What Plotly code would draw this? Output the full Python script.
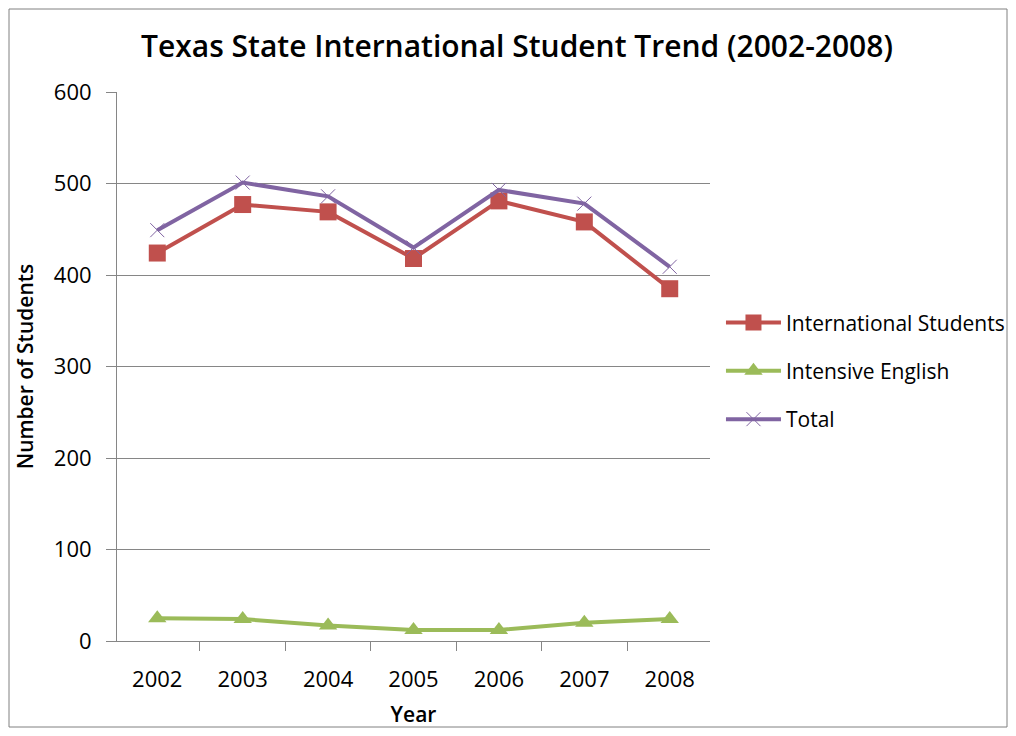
import plotly.graph_objects as go

# Data
years = ["2002", "2003", "2004", "2005", "2006", "2007", "2008"]
international = [424, 477, 469, 418, 481, 458, 385]
intensive_english = [25, 24, 17, 12, 12, 20, 24]
total = [449, 501, 486, 430, 493, 478, 409]

font_family = "'Open Sans', sans-serif"

fig = go.Figure()

fig.add_trace(go.Scatter(
    x=years, y=international, name="International Students",
    mode="lines+markers", legendgroup="a",
    line=dict(color="#C0504D", width=4),
    marker=dict(symbol="square", size=17, color="#C0504D"),
))
fig.add_trace(go.Scatter(
    x=years, y=intensive_english, name="Intensive English",
    mode="lines+markers", legendgroup="b",
    line=dict(color="#9BBB59", width=4),
    marker=dict(symbol="triangle-up", size=16, color="#9BBB59"),
))
fig.add_trace(go.Scatter(
    x=years, y=total, name="Total",
    mode="lines+markers", legendgroup="c",
    line=dict(color="#8064A2", width=4),
    marker=dict(symbol="x-thin-open", size=14, color="#8064A2",
                line=dict(color="#8064A2", width=1)),
))

fig.update_layout(
    width=1000, height=720,
    margin=dict(l=109, r=298, t=84, b=87, autoexpand=False),
    paper_bgcolor="white", plot_bgcolor="white",
    font=dict(family=font_family, color="black"),
    title=dict(
        text="Texas State International Student Trend (2002-2008)",
        x=0.509, xanchor="center", y=0.946, yanchor="middle",
        font=dict(size=30, weight=600),
    ),
    legend=dict(
        x=1.0185, xanchor="left", y=0.492, yanchor="middle",
        font=dict(size=21), traceorder="grouped", tracegroupgap=18,
        itemwidth=55, bgcolor="rgba(0,0,0,0)",
    ),
    shapes=[dict(
        type="rect", xref="paper", yref="paper",
        x0=-108 / 593, x1=1 + 297 / 593, y0=-86 / 549, y1=1 + 83 / 549,
        line=dict(color="#808080", width=1), layer="below",
    )],
)

fig.update_xaxes(
    type="category", tickson="boundaries", ticks="outside", ticklen=9,
    tickcolor="#868686", showline=True, linecolor="#868686", linewidth=1,
    showgrid=False, tickfont=dict(size=22), ticklabelstandoff=19,
    title=dict(text="Year", font=dict(size=21, weight=600), standoff=20),
)
fig.update_yaxes(
    range=[0, 600], dtick=100, ticks="outside", ticklen=10,
    tickcolor="#868686", showline=True, linecolor="#868686", linewidth=1,
    showgrid=True, gridcolor="#868686", gridwidth=1, zeroline=False,
    tickfont=dict(size=22), ticklabelstandoff=10,
    title=dict(text="Number of Students", font=dict(size=21, weight=600), standoff=14),
)

fig.write_html("out.html")
